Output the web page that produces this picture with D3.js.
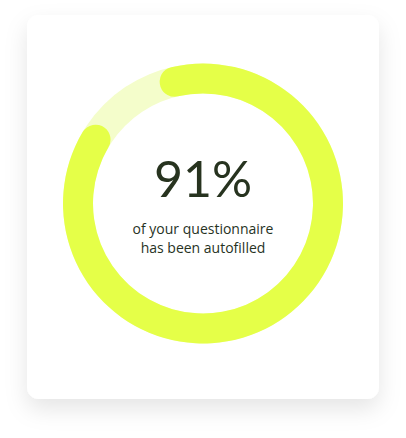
<!DOCTYPE html>
<html>
<head>
<meta charset="utf-8">
<script src="https://cdn.jsdelivr.net/npm/d3@7"></script>
<style>
  html, body { margin: 0; padding: 0; background: #ffffff; }
  svg { display: block; }
</style>
</head>
<body>
<div id="chart"></div>
<script>
// ---- data ----
const percentValue = 91;          // share autofilled
const percentTotal = 100;
const valueLabel = "91%";
const captionLines = ["of your questionnaire", "has been autofilled"];

// ---- layout ----
const W = 406, H = 438;
const card = { x: 27, y: 15, w: 352, h: 384, r: 12 };
const cx = 203, cy = 203.5;
const outerR = 140, innerR = 110;
const startDeg = -20;

const svg = d3.select("#chart").append("svg")
  .attr("width", W).attr("height", H);

const defs = svg.append("defs");
const f = defs.append("filter").attr("id", "shadow")
  .attr("x", "-30%").attr("y", "-30%").attr("width", "160%").attr("height", "160%");
f.append("feDropShadow")
  .attr("dx", 0).attr("dy", 10).attr("stdDeviation", 11)
  .attr("flood-color", "#000").attr("flood-opacity", 0.10);

svg.append("rect")
  .attr("x", card.x).attr("y", card.y)
  .attr("width", card.w).attr("height", card.h)
  .attr("rx", card.r).attr("ry", card.r)
  .attr("fill", "#ffffff")
  .attr("filter", "url(#shadow)");

const angle = d3.scaleLinear()
  .domain([0, percentTotal])
  .range([startDeg * Math.PI / 180, (startDeg + 360) * Math.PI / 180]);

const g = svg.append("g").attr("transform", `translate(${cx},${cy})`);

const trackArc = d3.arc().innerRadius(innerR).outerRadius(outerR)
  .startAngle(0).endAngle(2 * Math.PI);
const valueArc = d3.arc().innerRadius(innerR).outerRadius(outerR)
  .cornerRadius((outerR - innerR) / 2);

g.append("path").attr("d", trackArc()).attr("fill", "#f4fdcb");
g.append("path")
  .attr("d", valueArc({ startAngle: angle(0), endAngle: angle(percentValue) }))
  .attr("fill", "#e5ff48");

const textColor = "#27331f";
g.append("text")
  .attr("x", 0).attr("y", -6.5)
  .attr("text-anchor", "middle")
  .attr("font-family", "Lato, sans-serif")
  .attr("font-weight", 400)
  .attr("font-size", 50)
  .attr("fill", textColor)
  .text(valueLabel);

g.selectAll("text.cap").data(captionLines).enter().append("text")
  .attr("class", "cap")
  .attr("x", 0)
  .attr("y", (d, i) => 30 + i * 19)
  .attr("text-anchor", "middle")
  .attr("font-family", "'Open Sans', sans-serif")
  .attr("font-size", 14)
  .attr("fill", textColor)
  .text(d => d);
</script>
</body>
</html>
